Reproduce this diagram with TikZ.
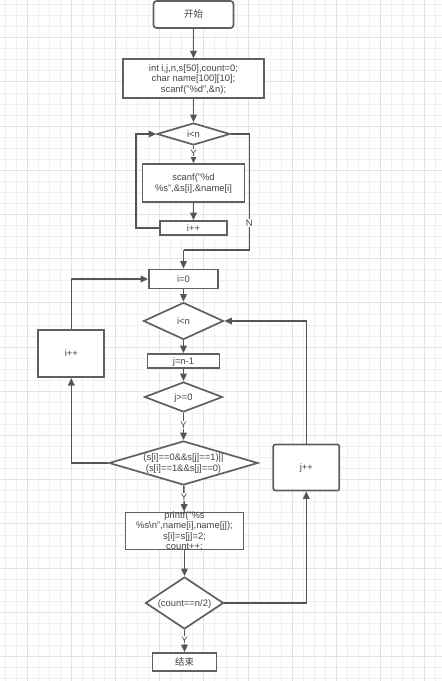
\documentclass[tikz,border=0pt]{standalone}
\usepackage{fontspec}
\setmainfont{Liberation Sans}
\newfontfamily\cjk{Noto Sans CJK SC}
\usetikzlibrary{shapes.geometric,arrows.meta}
\definecolor{lc}{HTML}{555555}
\definecolor{bc}{HTML}{606060}
\definecolor{tc}{HTML}{444444}
\definecolor{gmin}{HTML}{F0F0F0}
\definecolor{gmaj}{HTML}{E3E3E3}
\newcommand\fs{\fontsize{9.4}{10.5}\selectfont}
\newcommand\T[1]{\smash{\raisebox{-0.35em}{\makebox[0pt]{\begin{tabular}{@{}c@{}}#1\end{tabular}}}}}
\tikzset{
  box/.style={draw=bc, line width=1.7pt, fill=white, inner sep=0pt, text=tc, font=\fs},
  dec/.style={diamond, draw=bc, line width=1.7pt, fill=white, inner sep=0pt, text=tc, font=\fs},
  arr/.style={draw=lc, line width=1.6pt, -{Triangle[length=7.5pt,width=6.5pt]}},
  ln/.style={draw=lc, line width=1.6pt},
  lab/.style={fill=white, inner sep=0.8pt, text=tc, font=\fs},
  gminor/.style={draw=gmin, line width=0.8pt},
  gmajor/.style={draw=gmaj, line width=0.9pt}
}
\begin{document}
\begin{tikzpicture}[x=1pt,y=-1pt]
\useasboundingbox (0,0) rectangle (442,681);
\fill[white] (0,0) rectangle (442,681);
% grid
\foreach \k in {0,...,39} \draw[gminor] ({4.9+11.05*\k},0) -- ({4.9+11.05*\k},681);
\foreach \k in {0,...,61} \draw[gminor] (0,{4.5+11.05*\k}) -- (442,{4.5+11.05*\k});
\foreach \k in {0,...,9} \draw[gmajor] ({27+44.2*\k},0) -- ({27+44.2*\k},681);
\foreach \k in {0,...,14} \draw[gmajor] (0,{37.7+44.2*\k}) -- (442,{37.7+44.2*\k});

% nodes
\node[box, rounded corners=3pt, minimum width=80pt, minimum height=27pt] (start) at (193.5,14.5) {\T{\cjk 开始}};
\node[box, minimum width=141pt, minimum height=39pt] (decl) at (193.5,78.7) {\T{int i,j,n,s[50],count=0;\\char name[100][10];\\scanf("\%d",\&n);}};
\node[dec, minimum width=73pt, minimum height=22pt] (d1) at (193.5,134) {\T{i<n}};
\node[box, minimum width=102pt, minimum height=38pt] (scan) at (193.5,183) {\T{scanf("\%d\\\%s",\&s[i],\&name[i]}};
\node[box, minimum width=67pt, minimum height=14pt] (ipa) at (193.5,228) {\T{i++}};

\node[box, minimum width=69pt, minimum height=19pt] (izero) at (183.5,279) {\T{i=0}};
\node[dec, minimum width=80pt, minimum height=37pt] (d2) at (183.5,321) {\T{i<n}};
\node[box, minimum width=72pt, minimum height=14pt] (jn) at (183.5,361) {\T{j=n-1}};
\node[dec, minimum width=78pt, minimum height=30pt] (d3) at (183.5,397) {\T{j>=0}};
\node[box, minimum width=66pt, minimum height=47pt] (ipb) at (71.3,353.7) {\T{i++}};
\node[dec, minimum width=149pt, minimum height=44pt] (big) at (183.5,463) {\T{(s[i]==0\&\&s[j]==1)||\\(s[i]==1\&\&s[j]==0)}};
\node[box, minimum width=118pt, minimum height=37pt] (pr) at (184.5,531) {\T{printf("\%s\\\%s\textbackslash n",name[i],name[j]);\\s[i]=s[j]=2;\\count++;}};
\node[dec, minimum width=78pt, minimum height=52pt] (d4) at (184.5,603) {\T{(count==n/2)}};
\node[box, minimum width=64pt, minimum height=18pt] (fin) at (184.5,662) {\T{\cjk 结束}};
\node[box, rounded corners=2pt, minimum width=66pt, minimum height=46pt] (jpp) at (306.3,467.5) {\T{j++}};

% connector corner points
\coordinate (c1) at (136,228);
\coordinate (c2) at (136,134);
\coordinate (n1) at (249.3,134);
\coordinate (n2) at (249.3,250);
\coordinate (n3) at (183.5,250);
\coordinate (b1) at (71.3,463);
\coordinate (p1) at (71.3,279);
\coordinate (q1) at (306.3,603);
\coordinate (r1) at (306.3,321);

% connectors
\draw[arr] (start) -- (decl);
\draw[arr] (decl) -- (d1);
\draw[arr] (d1) -- node[lab, pos=0.42] (ly1) {Y} (scan);
\draw[arr] (scan) -- (ipa);
\draw[arr] (ipa.west) -- (c1) -- (c2) -- (d1.west);
\draw[ln] (d1.east) -- (n1) -- node[lab, pos=0.77] (ln1) {N} (n2) -- (n3);
\draw[arr] (n3) -- (izero);
\draw[arr] (izero) -- (d2);
\draw[arr] (d2) -- (jn);
\draw[arr] (jn) -- (d3);
\draw[arr] (d3) -- node[lab, pos=0.45] (ly2) {Y} (big);
\draw[arr] (big.west) -- (b1) -- (ipb.south);
\draw[arr] (ipb.north) -- (p1) -- (izero.west);
\draw[arr] (big) -- node[lab, pos=0.45] (ly3) {Y} (pr);
\draw[arr] (pr) -- (d4);
\draw[arr] (d4) -- node[lab, pos=0.45] (ly4) {Y} (fin);
\draw[arr] (d4.east) -- (q1) -- (jpp.south);
\draw[arr] (jpp.north) -- (r1) -- (d2.east);
\end{tikzpicture}
\end{document}
